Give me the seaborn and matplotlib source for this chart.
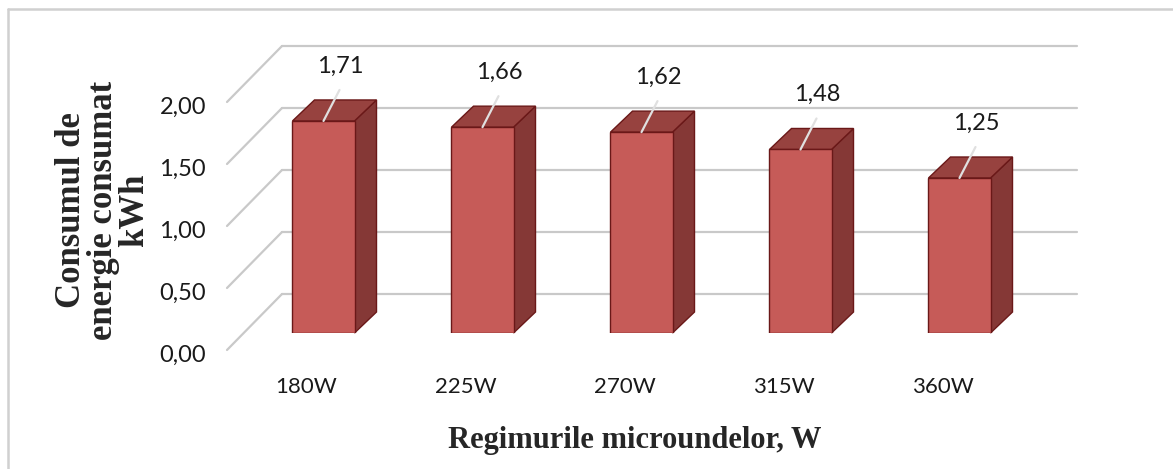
import matplotlib
matplotlib.use("Agg")
import matplotlib.pyplot as plt
import numpy as np
import pandas as pd
import seaborn as sns
from matplotlib.patches import Polygon
from matplotlib.lines import Line2D
from matplotlib.transforms import ScaledTranslation

# data
regimes = ["180W", "225W", "270W", "315W", "360W"]
consum = [1.71, 1.66, 1.62, 1.48, 1.25]
value_labels = ["1,71", "1,66", "1,62", "1,48", "1,25"]
y_ticks = [0.0, 0.5, 1.0, 1.5, 2.0]
y_ticklabels = ["0,00", "0,50", "1,00", "1,50", "2,00"]

df = pd.DataFrame({"regim": regimes, "consum": consum})

sns.set_style("white")
plt.rcParams["font.family"] = ["Lato", "DejaVu Sans"]

W, H = 1173, 469
fig = plt.figure(figsize=(W / 100, H / 100), dpi=100)
ax = fig.add_axes([244 / W, 136 / H, 795 / W, 248 / H])

front_c = "#c65b58"
side_c = "#853836"
top_c = "#97423f"
edge_c = "#6a1818"
grid_c = "#c9c9c9"

sns.barplot(data=df, x="regim", y="consum", color=front_c, saturation=1,
            width=0.39, edgecolor=edge_c, linewidth=1, ax=ax, zorder=3)
ax.set_xlim(-0.5, 4.5)
ax.set_ylim(0, 2)
for s in ax.spines.values():
    s.set_visible(False)
ax.set_xlabel("")
ax.set_ylabel("")
ax.patch.set_alpha(0)

# pixels per data unit
o = ax.transData.transform((0, 0))
ux = ax.transData.transform((1, 0))[0] - o[0]
uy = ax.transData.transform((0, 1))[1] - o[1]


def px(dx, dy):
    return ScaledTranslation(dx / 100, dy / 100, fig.dpi_scale_trans)


# back wall gridlines and the diagonal lines of the side wall
back_x, back_y = 38 / ux, 39 / uy
lab_x, lab_y = -17 / ux, -17 / uy
for y in y_ticks:
    ax.add_line(Line2D([-0.5 + back_x, 4.5 + back_x], [y + back_y, y + back_y],
                       color=grid_c, lw=1.6, zorder=0, clip_on=False))
    ax.add_line(Line2D([-0.5 + lab_x, -0.5 + back_x], [y + lab_y, y + back_y],
                       color=grid_c, lw=1.6, zorder=0, clip_on=False))

# 3d side and top faces of the bars
dx, dy = 22 / ux, 21 / uy
for bar in ax.patches[:len(consum)]:
    x0, w, h = bar.get_x(), bar.get_width(), bar.get_height()
    side = [(x0 + w, 0), (x0 + w + dx, dy), (x0 + w + dx, h + dy), (x0 + w, h)]
    top = [(x0, h), (x0 + dx, h + dy), (x0 + w + dx, h + dy), (x0 + w, h)]
    ax.add_patch(Polygon(side, closed=True, facecolor=side_c, edgecolor=edge_c,
                         lw=1, zorder=2, clip_on=False))
    ax.add_patch(Polygon(top, closed=True, facecolor=top_c, edgecolor=edge_c,
                         lw=1, zorder=2, clip_on=False))

# value labels with leader lines
for i, (v, lbl) in enumerate(zip(consum, value_labels)):
    ax.add_line(Line2D([i, i + 16 / ux], [v, v + 31 / uy], color="#e0e0e0",
                       lw=1.6, zorder=4, clip_on=False))
    ax.text(i + 17 / ux, v + 55 / uy, lbl, ha="center", va="center",
            fontsize=17, color="#1a1a1a", zorder=5, clip_on=False)

# ticks
ax.set_yticks(y_ticks, y_ticklabels)
ax.tick_params(axis="y", length=0, pad=27.4, labelsize=17, labelcolor="#1a1a1a")
for t in ax.get_yticklabels():
    t.set_transform(t.get_transform() + px(0, -20))
ax.tick_params(axis="x", length=0, pad=32, labelsize=16, labelcolor="#1a1a1a")
for t in ax.get_xticklabels():
    t.set_transform(t.get_transform() + px(-17, 0))

# axis titles
fig.text(103 / W, 1 - 210 / H, "Consumul de\nenergie consumat\nkWh", rotation=90,
         ha="center", va="center", multialignment="center", fontsize=25,
         fontweight="bold", family="Liberation Serif", linespacing=0.95)
fig.text(635 / W, 1 - 440 / H, "Regimurile microundelor, W", ha="center",
         va="center", fontsize=22, fontweight="bold", family="Liberation Serif")

# outer frame (top and left edges visible)
fig.add_artist(Line2D([8 / W, 1.0], [1 - 9 / H, 1 - 9 / H], color="#d0d0d0", lw=1.8))
fig.add_artist(Line2D([8 / W, 8 / W], [0, 1 - 9 / H], color="#d0d0d0", lw=1.8))

fig.savefig("out.png", dpi=100)
